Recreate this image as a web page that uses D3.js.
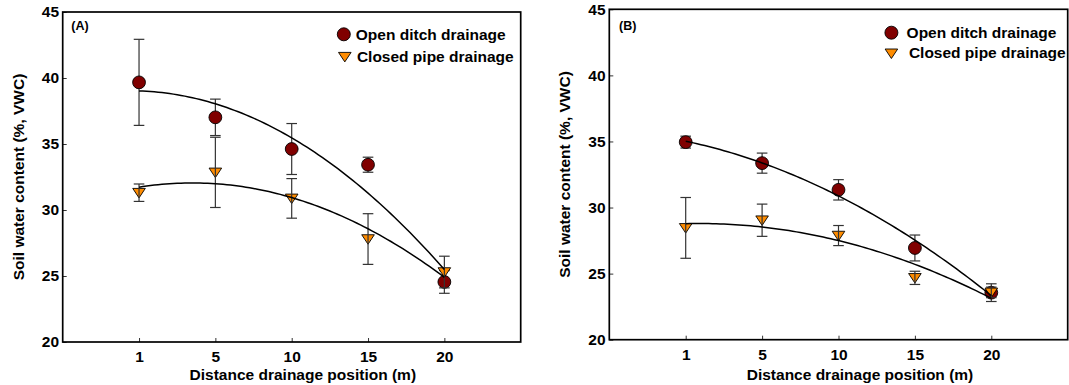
<!DOCTYPE html>
<html><head><meta charset="utf-8">
<script src="https://cdn.jsdelivr.net/npm/d3@7"></script>
<style>
html,body{margin:0;padding:0;background:#fff;}
svg text{font-family:"Liberation Sans",Arial,sans-serif;font-weight:bold;fill:#000;}
</style></head>
<body>
<svg id="chart" width="1069" height="385"></svg>
<script>
// ---- data ----
const categories = ["1", "5", "10", "15", "20"];
const yTicks = [20, 25, 30, 35, 40, 45];
const seriesNames = ["Open ditch drainage", "Closed pipe drainage"];
const panelLabels = ["(A)", "(B)"];
const xTitle = "Distance drainage position (m)";
const yTitle = "Soil water content (%, VWC)";

const openA      = [39.67, 37.02, 34.62, 33.43, 24.55];
const openAErr   = [3.26, 1.38, 1.93, 0.57, 0.86];
const closedA    = [31.31, 32.85, 30.88, 27.80, 25.30];
const closedAErr = [0.66, 2.66, 1.50, 1.92, 1.20];

const openB      = [34.95, 33.36, 31.34, 26.94, 23.56];
const openBErr   = [0.45, 0.76, 0.77, 0.98, 0.67];
const closedB    = [28.46, 29.04, 27.88, 24.68, 23.58];
const closedBErr = [2.30, 1.22, 0.76, 0.50, 0.40];

// ---- layout ----
const svg = d3.select("#chart");
const FONT = 15.5;
const panels = [
  {label: panelLabels[0], open: openA, openErr: openAErr, closed: closedA, closedErr: closedAErr,
   left: 62.7, right: 520.7, top: 12, bottom: 342,
   labelPos: [71.3, 30], yTitleX: 23.5, xTitleX: 302.8, xTitleY: 380,
   leg: {cx: 343.8, cy: 34.3, tx: 355.8, ty: 40, tcx: 344.8, tcy: 56.7, ttx: 356.9, tty: 62}},
  {label: panelLabels[1], open: openB, openErr: openBErr, closed: closedB, closedErr: closedBErr,
   left: 609.3, right: 1067.7, top: 9.3, bottom: 339.7,
   labelPos: [619, 29.5], yTitleX: 569.7, xTitleX: 860, xTitleY: 379.5,
   leg: {cx: 891.4, cy: 32.7, tx: 906.6, ty: 38.3, tcx: 891.4, tcy: 53.3, ttx: 908.9, tty: 58.3}}
];

const CIRCLE_FILL = "#800000";
const TRI_FILL = "#FF8C00";
const ERR_COLOR = "#333";

function triPath(cx, cy) {
  const w = 6.3, h1 = 4.3, h2 = 5.2;
  return `M${cx - w},${cy - h1}L${cx + w},${cy - h1}L${cx},${cy + h2}Z`;
}

// least-squares quadratic fit (as in original regression lines)
function quadFit(xs, ys) {
  const n = xs.length;
  let S = [[0,0,0],[0,0,0],[0,0,0]], B = [0,0,0];
  for (let i = 0; i < n; i++) {
    const p = [1, xs[i], xs[i]*xs[i]];
    for (let r = 0; r < 3; r++) {
      B[r] += p[r] * ys[i];
      for (let c = 0; c < 3; c++) S[r][c] += p[r]*p[c];
    }
  }
  const M = S.map((row, i) => row.concat([B[i]]));
  for (let i = 0; i < 3; i++) {
    let piv = i;
    for (let k = i+1; k < 3; k++) if (Math.abs(M[k][i]) > Math.abs(M[piv][i])) piv = k;
    [M[i], M[piv]] = [M[piv], M[i]];
    for (let k = i+1; k < 3; k++) {
      const f = M[k][i] / M[i][i];
      for (let c = i; c < 4; c++) M[k][c] -= f * M[i][c];
    }
  }
  const coef = [0,0,0];
  for (let i = 2; i >= 0; i--) {
    let s = M[i][3];
    for (let c = i+1; c < 3; c++) s -= M[i][c]*coef[c];
    coef[i] = s / M[i][i];
  }
  return x => coef[0] + coef[1]*x + coef[2]*x*x;
}

panels.forEach(p => {
  const g = svg.append("g");
  const x = d3.scaleLinear().domain([0, categories.length + 1]).range([p.left, p.right]);
  const y = d3.scaleLinear().domain([20, 45]).range([p.bottom, p.top]);
  const idx = categories.map((c, i) => i + 1);

  // axes (inward ticks)
  const yAxis = d3.axisLeft(y).tickValues(yTicks).tickSizeInner(-4).tickSizeOuter(0).tickPadding(3.7);
  const gy = g.append("g").attr("transform", `translate(${p.left},0)`).call(yAxis);
  const xAxis = d3.axisBottom(x).tickValues(idx).tickFormat(i => categories[i - 1])
    .tickSizeInner(-4).tickSizeOuter(0).tickPadding(9.3);
  const gx = g.append("g").attr("transform", `translate(0,${p.bottom})`).call(xAxis);
  [gx, gy].forEach(a => {
    a.select(".domain").remove();
    a.selectAll(".tick line").attr("stroke", "#333").attr("stroke-width", 1);
    a.selectAll(".tick text").style("font-size", FONT + "px").attr("font-family", null).attr("fill", "#000");
  });
  gx.selectAll(".tick text").attr("dy", "0.71em");

  // frame
  g.append("rect").attr("x", p.left).attr("y", p.top)
    .attr("width", p.right - p.left).attr("height", p.bottom - p.top)
    .attr("fill", "none").attr("stroke", "#000").attr("stroke-width", 1.7);

  function errBars(vals, errs) {
    const eg = g.append("g").attr("stroke", ERR_COLOR).attr("stroke-width", 1.2).attr("fill", "none");
    vals.forEach((v, i) => {
      const cx = x(idx[i]), y1 = y(v + errs[i]), y2 = y(v - errs[i]);
      eg.append("line").attr("x1", cx).attr("x2", cx).attr("y1", y1).attr("y2", y2);
      eg.append("line").attr("x1", cx - 5.3).attr("x2", cx + 5.3).attr("y1", y1).attr("y2", y1);
      eg.append("line").attr("x1", cx - 5.3).attr("x2", cx + 5.3).attr("y1", y2).attr("y2", y2);
    });
  }

  errBars(p.open, p.openErr);
  g.append("g").selectAll("circle").data(p.open).join("circle")
    .attr("cx", (d, i) => x(idx[i])).attr("cy", d => y(d)).attr("r", 6.4)
    .attr("fill", CIRCLE_FILL).attr("stroke", "#000").attr("stroke-width", 0.9);
  g.append("g").selectAll("path").data(p.closed).join("path")
    .attr("d", (d, i) => triPath(x(idx[i]), y(d)))
    .attr("fill", TRI_FILL).attr("stroke", "#000").attr("stroke-width", 0.9);
  errBars(p.closed, p.closedErr);

  // regression curves
  const samples = d3.range(1, categories.length + 0.0001, 0.05);
  [p.open, p.closed].forEach(vals => {
    const f = quadFit(idx, vals);
    g.append("path").datum(samples)
      .attr("d", d3.line().x(t => x(t)).y(t => y(f(t))))
      .attr("fill", "none").attr("stroke", "#000").attr("stroke-width", 1.5);
  });

  g.append("text").attr("x", p.labelPos[0]).attr("y", p.labelPos[1])
    .style("font-size", "12.5px").text(p.label);

  const L = p.leg;
  g.append("circle").attr("cx", L.cx).attr("cy", L.cy).attr("r", 6.5)
    .attr("fill", CIRCLE_FILL).attr("stroke", "#000").attr("stroke-width", 0.9);
  g.append("text").attr("x", L.tx).attr("y", L.ty).style("font-size", FONT + "px").text(seriesNames[0]);
  g.append("path").attr("d", triPath(L.tcx, L.tcy))
    .attr("fill", TRI_FILL).attr("stroke", "#000").attr("stroke-width", 0.9);
  g.append("text").attr("x", L.ttx).attr("y", L.tty).style("font-size", FONT + "px").text(seriesNames[1]);

  g.append("text").attr("x", p.xTitleX).attr("y", p.xTitleY).attr("text-anchor", "middle")
    .style("font-size", FONT + "px").text(xTitle);
  g.append("text").attr("transform", `translate(${p.yTitleX},${(p.top + p.bottom) / 2}) rotate(-90)`)
    .attr("text-anchor", "middle").style("font-size", FONT + "px").text(yTitle);
});
</script>
</body></html>
